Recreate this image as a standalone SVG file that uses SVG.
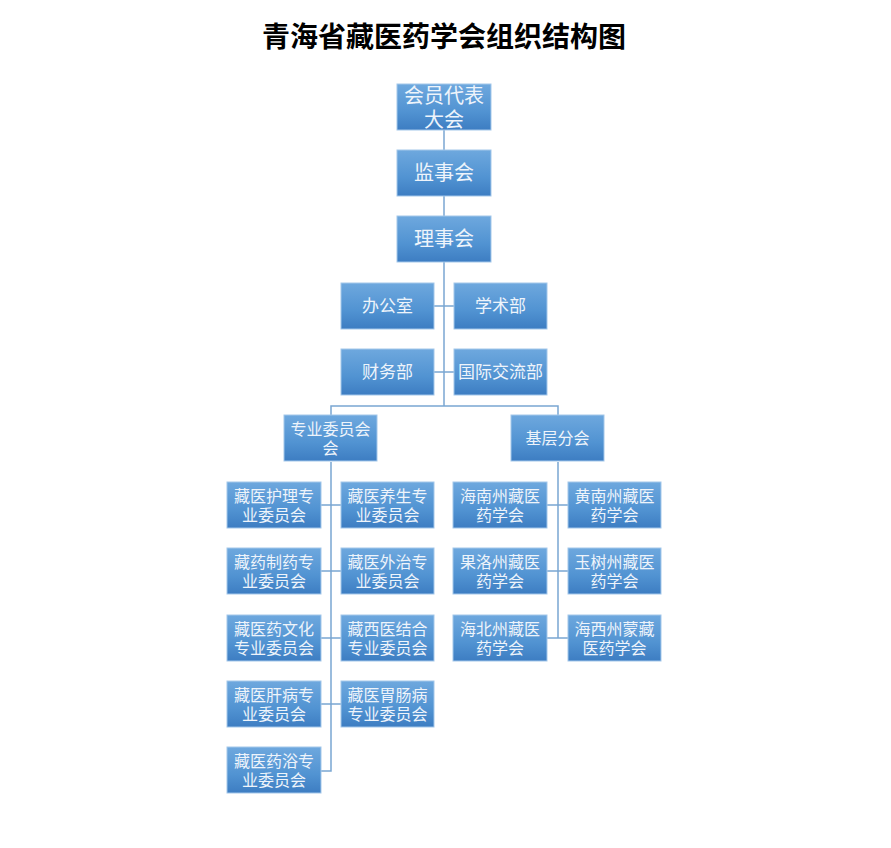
<svg xmlns="http://www.w3.org/2000/svg" width="891" height="848" viewBox="0 0 891 848">
<defs>
<linearGradient id="g" x1="0" y1="0" x2="0" y2="1">
<stop offset="0" stop-color="#6ea8de"/>
<stop offset="0.6" stop-color="#5193d2"/>
<stop offset="1" stop-color="#3d7dc2"/>
</linearGradient>
</defs>
<style>
.bg{fill:#ffffff}
.box{fill:url(#g);stroke:#a3c7ea;stroke-width:1}
.t{font-family:"Liberation Sans","Noto Sans CJK SC",sans-serif;fill:#eef4fb;text-anchor:middle;dominant-baseline:central}
.big{font-size:20px}
.mid{font-size:17px}
.sm{font-size:16px}
.title{font-family:"Liberation Sans","Noto Sans CJK SC",sans-serif;font-size:28px;font-weight:bold;fill:#000;text-anchor:middle;dominant-baseline:central}
.c{fill:none;stroke:#7aa6d2;stroke-width:1.5}
</style>
<rect class="bg" x="0" y="0" width="891" height="848"/>
<text class="title" x="444" y="37">青海省藏医药学会组织结构图</text>
<g id="connectors">
<path class="c" d="M444,130V406"/>
<path class="c" d="M434,306H454M434,372H454"/>
<path class="c" d="M331,415V406H558V415"/>
<path class="c" d="M331,462V771H321M321,505H341M321,571H341M321,638H341M321,704H341"/>
<path class="c" d="M558,462V638M547,505H568M547,571H568M547,638H568"/>
</g>
<g id="n-dahui"><rect class="box" x="397" y="84" width="94" height="46"/><text class="t big" x="444" y="96">会员代表</text><text class="t big" x="444" y="120">大会</text></g>
<g id="n-jianshi"><rect class="box" x="397" y="150" width="94" height="46"/><text class="t big" x="444" y="173">监事会</text></g>
<g id="n-lishi"><rect class="box" x="397" y="216" width="94" height="46"/><text class="t big" x="444" y="239">理事会</text></g>
<g id="n-bangong"><rect class="box" x="341" y="283" width="93" height="46"/><text class="t mid" x="387.5" y="306">办公室</text></g>
<g id="n-xueshu"><rect class="box" x="454" y="283" width="93" height="46"/><text class="t mid" x="500.5" y="306">学术部</text></g>
<g id="n-caiwu"><rect class="box" x="341" y="349" width="93" height="46"/><text class="t mid" x="387.5" y="372">财务部</text></g>
<g id="n-guoji"><rect class="box" x="454" y="349" width="93" height="46"/><text class="t mid" x="500.5" y="372">国际交流部</text></g>
<g id="n-zhuanye"><rect class="box" x="284" y="415" width="93" height="46"/><text class="t sm" x="330.5" y="429">专业委员会</text><text class="t sm" x="330.5" y="448">会</text></g>
<g id="n-jiceng"><rect class="box" x="511" y="415" width="93" height="46"/><text class="t sm" x="557.5" y="438">基层分会</text></g>
<g id="n-huli"><rect class="box" x="227" y="482" width="94" height="46"/><text class="t sm" x="274" y="496">藏医护理专</text><text class="t sm" x="274" y="515">业委员会</text></g>
<g id="n-yangsheng"><rect class="box" x="341" y="482" width="93" height="46"/><text class="t sm" x="387.5" y="496">藏医养生专</text><text class="t sm" x="387.5" y="515">业委员会</text></g>
<g id="n-zhiyao"><rect class="box" x="227" y="548" width="94" height="46"/><text class="t sm" x="274" y="562">藏药制药专</text><text class="t sm" x="274" y="581">业委员会</text></g>
<g id="n-waizhi"><rect class="box" x="341" y="548" width="93" height="46"/><text class="t sm" x="387.5" y="562">藏医外治专</text><text class="t sm" x="387.5" y="581">业委员会</text></g>
<g id="n-wenhua"><rect class="box" x="227" y="615" width="94" height="46"/><text class="t sm" x="274" y="629">藏医药文化</text><text class="t sm" x="274" y="648">专业委员会</text></g>
<g id="n-jiehe"><rect class="box" x="341" y="615" width="93" height="46"/><text class="t sm" x="387.5" y="629">藏西医结合</text><text class="t sm" x="387.5" y="648">专业委员会</text></g>
<g id="n-ganbing"><rect class="box" x="227" y="681" width="94" height="46"/><text class="t sm" x="274" y="695">藏医肝病专</text><text class="t sm" x="274" y="714">业委员会</text></g>
<g id="n-weichang"><rect class="box" x="341" y="681" width="93" height="46"/><text class="t sm" x="387.5" y="695">藏医胃肠病</text><text class="t sm" x="387.5" y="714">专业委员会</text></g>
<g id="n-yaoyu"><rect class="box" x="227" y="747" width="94" height="46"/><text class="t sm" x="274" y="761">藏医药浴专</text><text class="t sm" x="274" y="780">业委员会</text></g>
<g id="n-hainan"><rect class="box" x="453" y="482" width="94" height="46"/><text class="t sm" x="500" y="496">海南州藏医</text><text class="t sm" x="500" y="515">药学会</text></g>
<g id="n-huangnan"><rect class="box" x="568" y="482" width="93" height="46"/><text class="t sm" x="614.5" y="496">黄南州藏医</text><text class="t sm" x="614.5" y="515">药学会</text></g>
<g id="n-guoluo"><rect class="box" x="453" y="548" width="94" height="46"/><text class="t sm" x="500" y="562">果洛州藏医</text><text class="t sm" x="500" y="581">药学会</text></g>
<g id="n-yushu"><rect class="box" x="568" y="548" width="93" height="46"/><text class="t sm" x="614.5" y="562">玉树州藏医</text><text class="t sm" x="614.5" y="581">药学会</text></g>
<g id="n-haibei"><rect class="box" x="453" y="615" width="94" height="46"/><text class="t sm" x="500" y="629">海北州藏医</text><text class="t sm" x="500" y="648">药学会</text></g>
<g id="n-haixi"><rect class="box" x="568" y="615" width="93" height="46"/><text class="t sm" x="614.5" y="629">海西州蒙藏</text><text class="t sm" x="614.5" y="648">医药学会</text></g>
</svg>
